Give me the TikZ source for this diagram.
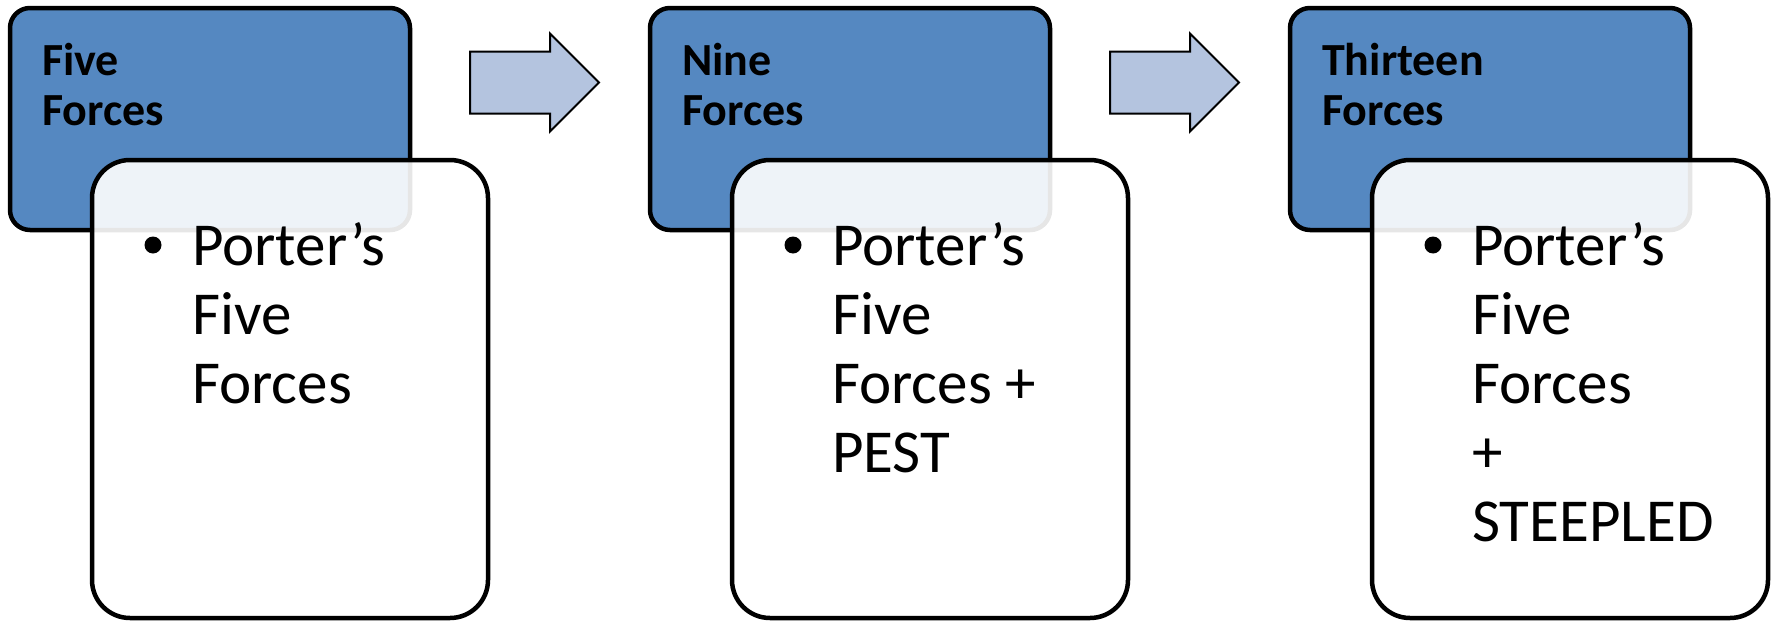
\documentclass[tikz,border=0pt]{standalone}
\usepackage{fontspec}
\setmainfont{Carlito}
\usetikzlibrary{shapes.arrows}
\definecolor{hdrblue}{RGB}{85,136,193}
\definecolor{arrfill}{RGB}{180,196,223}
\tikzset{
  hdrbox/.style={draw=black, line width=4.5pt, fill=hdrblue, rounded corners=20pt,
    minimum width=400pt, minimum height=222pt, inner sep=0pt},
  bodybox/.style={draw=black, line width=4.5pt, fill=white, fill opacity=0.9, draw opacity=1,
    rounded corners=38pt, minimum width=396pt, minimum height=458pt, inner sep=0pt},
  blockarrow/.style={single arrow, draw=black, line width=2pt, fill=arrfill,
    minimum height=129pt, minimum width=97pt, single arrow head extend=18pt,
    single arrow head indent=0pt, inner xsep=0pt, inner ysep=30pt, outer sep=0pt,
    shape border rotate=0, anchor=tail},
  hdrtext/.style={anchor=base west, inner sep=0pt, font=\fontsize{46}{50}\selectfont\bfseries},
  bodytext/.style={anchor=base west, inner sep=0pt, font=\fontsize{61}{69}\selectfont},
  bulletdot/.style={circle, fill=black, inner sep=0pt, minimum size=17pt}
}
\begin{document}
\begin{tikzpicture}[x=1pt,y=-1pt]
\useasboundingbox (0,0) rectangle (1775,621);
% stage 1
\node[hdrbox] (h1) at (210,119) {};
\node[bodybox] (b1) at (290,389) {};
\node[hdrtext] (h1a) at (42,75) {Five};
\node[hdrtext] (h1b) at (42,125) {Forces};
\node[bulletdot] (d1) at (153,245) {};
\node[bodytext] (b1a) at (192,265) {Porter’s};
\node[bodytext] (b1b) at (192,334) {Five};
\node[bodytext] (b1c) at (192,403) {Forces};
% arrow 1
\node[blockarrow] (a1) at (470,82.5) {};
% stage 2
\node[hdrbox] (h2) at (850,119) {};
\node[bodybox] (b2) at (930,389) {};
\node[hdrtext] (h2a) at (682,75) {Nine};
\node[hdrtext] (h2b) at (682,125) {Forces};
\node[bulletdot] (d2) at (793,245) {};
\node[bodytext] (b2a) at (832,265) {Porter’s};
\node[bodytext] (b2b) at (832,334) {Five};
\node[bodytext] (b2c) at (832,403) {Forces +};
\node[bodytext] (b2d) at (832,472) {PEST};
% arrow 2
\node[blockarrow] (a2) at (1110,82.5) {};
% stage 3
\node[hdrbox] (h3) at (1490,119) {};
\node[bodybox] (b3) at (1570,389) {};
\node[hdrtext] (h3a) at (1322,75) {Thirteen};
\node[hdrtext] (h3b) at (1322,125) {Forces};
\node[bulletdot] (d3) at (1433,245) {};
\node[bodytext] (b3a) at (1472,265) {Porter’s};
\node[bodytext] (b3b) at (1472,334) {Five};
\node[bodytext] (b3c) at (1472,403) {Forces};
\node[bodytext] (b3d) at (1472,472) {+};
\node[bodytext] (b3e) at (1472,541) {STEEPLED};
\end{tikzpicture}
\end{document}
